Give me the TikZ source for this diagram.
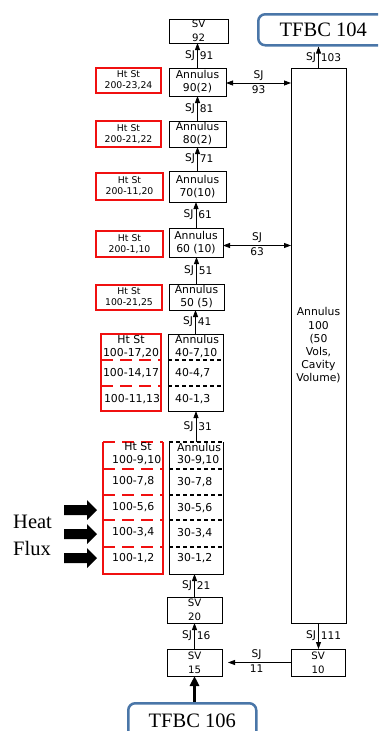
\documentclass[tikz,border=0pt]{standalone}
\usepackage{fontspec}
\setmainfont{DejaVu Sans}
\newfontfamily\tnr{Liberation Serif}
\usetikzlibrary{arrows.meta,calc}
\definecolor{tfbcblue}{RGB}{74,118,168}
\definecolor{htred}{RGB}{240,16,16}
\tikzset{
 bbox/.style={draw, line width=1pt, inner sep=0pt, outer sep=0pt, anchor=north west, align=center, font=\fontsize{10.8}{13}\selectfont},
 svbox/.style={bbox, font=\fontsize{10.2}{14}\selectfont},
 hbox/.style={draw=htred, line width=2.2pt, inner sep=0pt, outer sep=0pt, anchor=north west, align=center, font=\fontsize{9.3}{11}\selectfont},
 blk/.style={draw=none, inner sep=0pt, outer sep=0pt, anchor=north west},
 tfbc/.style={draw=tfbcblue, line width=2.5pt, rounded corners=7pt, inner sep=0pt, anchor=north west, font=\tnr\fontsize{20.5}{22}\selectfont},
 conn/.style={line width=0.8pt, -{Triangle[length=7pt,width=5pt]}},
 dconn/.style={line width=0.8pt, {Triangle[length=7pt,width=5pt]}-{Triangle[length=7pt,width=5pt]}},
 bigconn/.style={line width=3pt, -{Triangle[length=10pt,width=9pt]}},
 lab/.style={font=\fontsize{10.6}{12}\selectfont, inner sep=2pt},
 btxt/.style={font=\fontsize{10.9}{13}\selectfont, inner sep=0pt, align=center},
 ltxt/.style={btxt, anchor=west, align=left},
 rsolid/.style={draw=htred, line width=2.2pt},
 rdash/.style={draw=htred, line width=2.8pt, dash pattern=on 12pt off 7pt},
 kdash/.style={line width=1.1pt, dash pattern=on 4pt off 3pt},
 heat/.style={font=\tnr\fontsize{20.5}{22}\selectfont, inner sep=0pt, anchor=west},
}
\begin{document}
\begin{tikzpicture}[x=1pt,y=-1pt]
\useasboundingbox (0,0) rectangle (378,731);
\clip (0,0) rectangle (378,731);

% TFBC boundary boxes
\node[tfbc, minimum width=130, minimum height=31] (t104) at (257,13) {TFBC 104};
\node[tfbc, minimum width=128, minimum height=36] (t106) at (127,702) {TFBC 106};

% left column boxes
\node[svbox, minimum width=59, minimum height=24] (sv92) at (169,19) {SV\\92};
\node[bbox, minimum width=57, minimum height=28] (a90) at (169,68) {Annulus\\90(2)};
\node[bbox, minimum width=57, minimum height=26] (a80) at (169,121) {Annulus\\80(2)};
\node[bbox, minimum width=57, minimum height=31] (a70) at (169,171) {Annulus\\70(10)};
\node[bbox, minimum width=54, minimum height=29] (a60) at (169,228) {Annulus\\60 (10)};
\node[bbox, minimum width=55, minimum height=26] (a50) at (169,284) {Annulus\\50 (5)};

\node[hbox, minimum width=65, minimum height=25] (h90) at (96,68) {Ht St\\200-23,24};
\node[hbox, minimum width=65, minimum height=26] (h80) at (96,121) {Ht St\\200-21,22};
\node[hbox, minimum width=67, minimum height=27] (h70) at (96,173) {Ht St\\200-11,20};
\node[hbox, minimum width=67, minimum height=26] (h60) at (96,231) {Ht St\\200-1,10};
\node[hbox, minimum width=66, minimum height=25] (h50) at (96,285) {Ht St\\100-21,25};

% block 40
\node[bbox, minimum width=55, minimum height=77] (b40) at (168,334) {};
\node[hbox, minimum width=60, minimum height=77] (r40) at (101,334) {};
\draw[kdash] (168,360) -- (223,360);
\draw[kdash] (168,386) -- (223,386);
\draw[rdash] (101,360) -- (161,360);
\draw[rdash] (101,386) -- (161,386);
\node[btxt] (r40a) at (131,346.5) {Ht St\\100-17,20};
\node[btxt] (r40b) at (131,373) {100-14,17};
\node[btxt] (r40c) at (132,399) {100-11,13};
\node[ltxt] (b40a) at (175,346.5) {Annulus\\40-7,10};
\node[ltxt] (b40b) at (175,373) {40-4,7};
\node[ltxt] (b40c) at (175,399) {40-1,3};

% block 30
\node[blk, minimum width=54, minimum height=132] (b30) at (169,442) {};
\node[blk, minimum width=60, minimum height=132] (r30) at (103,442) {};
\draw[line width=1pt] (b30.north west) -- (b30.south west) -- (b30.south east) -- (b30.north east);
\draw[kdash] (b30.north west) -- (b30.north east);
\draw[rsolid] (r30.north west) -- (r30.south west) -- (r30.south east) -- (r30.north east);
\draw[rdash] (r30.north west) -- (r30.north east);
\foreach \yy in {469,495,520,547}{
  \draw[kdash] (169,\yy) -- (223,\yy);
  \draw[rdash] (103,\yy) -- (163,\yy);
}
\node[btxt] (r30h) at (138,447) {Ht St};
\node[ltxt] (r30a) at (112,460) {100-9,10};
\node[ltxt] (r30b) at (112,481) {100-7,8};
\node[ltxt] (r30c) at (112,507) {100-5,6};
\node[ltxt] (r30d) at (112,532) {100-3,4};
\node[ltxt] (r30e) at (112,558) {100-1,2};
\node[ltxt] (b30h) at (177,447) {Annulus};
\node[ltxt] (b30a) at (177,460) {30-9,10};
\node[ltxt] (b30b) at (177,482) {30-7,8};
\node[ltxt] (b30c) at (177,508) {30-5,6};
\node[ltxt] (b30d) at (177,533) {30-3,4};
\node[ltxt] (b30e) at (177,558) {30-1,2};

% bottom volumes
\node[svbox, minimum width=55, minimum height=26] (sv20) at (167,597) {SV\\20};
\node[svbox, minimum width=55, minimum height=27] (sv15) at (167,649) {SV\\15};
\node[svbox, minimum width=54, minimum height=27] (sv10) at (291,649) {SV\\10};

% annulus 100
\node[bbox, minimum width=55, minimum height=555, font=\fontsize{10.8}{13.2}\selectfont] (a100) at (291,68) {Annulus\\100\\(50\\Vols,\\Cavity\\Volume)};

% heat flux
\node[heat] (heatl) at (13,522) {Heat};
\node[heat] (fluxl) at (13,548) {Flux};
\foreach \yy in {510,534,558}{
  \fill (64,\yy-5) -- (87,\yy-5) -- (87,\yy-10) -- (97,\yy) -- (87,\yy+10) -- (87,\yy+5) -- (64,\yy+5) -- cycle;
}

% junctions
\draw[conn] (a90.north) -- (a90.north |- sv92.south) node[midway,left,lab]{SJ} node[midway,right,lab]{91};
\draw[conn] (a80.north) -- (a80.north |- a90.south) node[midway,left,lab]{SJ} node[midway,right,lab]{81};
\draw[conn] (a70.north) -- (a70.north |- a80.south) node[midway,left,lab]{SJ} node[midway,right,lab]{71};
\draw[conn] (a60.north) -- (a60.north |- a70.south) node[midway,left,lab]{SJ} node[midway,right,lab]{61};
\draw[conn] (a50.north) -- (a50.north |- a60.south) node[midway,left,lab]{SJ} node[midway,right,lab]{51};
\draw[conn] (b40.north) -- (b40.north |- a50.south) node[midway,left,lab]{SJ} node[midway,right,lab]{41};
\draw[conn] (b30.north) -- (b30.north |- b40.south) node[midway,left,lab]{SJ} node[midway,right,lab]{31};
\draw[conn] (sv20.north) -- (sv20.north |- b30.south) node[midway,left,lab]{SJ} node[midway,right,lab]{21};
\draw[conn] (sv15.north) -- (sv15.north |- sv20.south) node[midway,left,lab]{SJ} node[midway,right,lab]{16};
\draw[conn] (a100.north) -- (a100.north |- t104.south) node[midway,left,lab]{SJ} node[midway,right,lab]{103};
\draw[conn] (a100.south) -- (a100.south |- sv10.north) node[midway,left,lab]{SJ} node[midway,right,lab]{111};
\draw[dconn] ([yshift=-1pt]a90.east) -- ([yshift=-1pt]a90.east -| a100.west) node[midway,above,lab]{SJ} node[midway,below,lab]{93};
\draw[dconn] ([yshift=-3pt]a60.east) -- ([yshift=-3pt]a60.east -| a100.west) node[midway,above,lab]{SJ} node[midway,below,lab]{63};
\draw[conn, shorten >=6pt] (sv10.west) -- (sv10.west -| sv15.east) node[midway,above,lab]{SJ} node[midway,below,lab]{11};
\draw[bigconn] (t106.north -| sv15.south) -- (sv15.south);
\end{tikzpicture}
\end{document}
